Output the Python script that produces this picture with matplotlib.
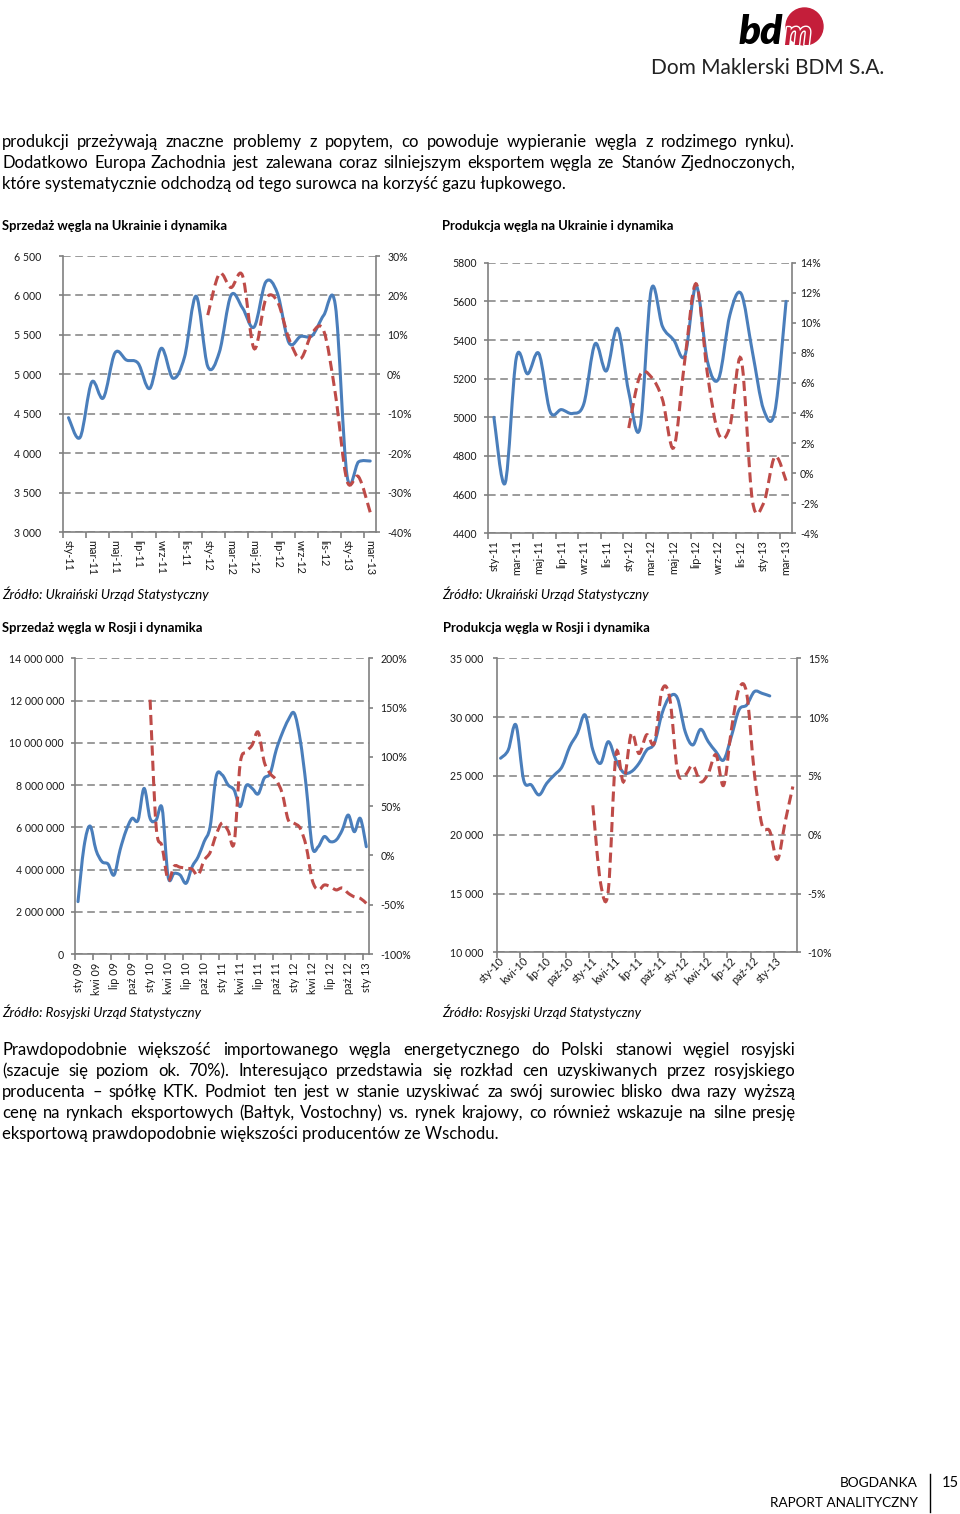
import numpy as np
import matplotlib
matplotlib.use('Agg')
import matplotlib.pyplot as plt
from matplotlib.path import Path
from matplotlib.patches import PathPatch, Circle
from matplotlib.ticker import FuncFormatter
import matplotlib.patheffects as pe

plt.rcParams['font.family'] = ['Lato', 'DejaVu Sans']

BLUE = '#4a7ebb'
RED = '#be4b48'
GRAY = '#808080'
TXT = '#1a1a1a'

MON = ['sty', 'lut', 'mar', 'kwi', 'maj', 'cze', 'lip', 'sie', 'wrz', 'paź', 'lis', 'gru']

# Ukraina - sprzedaz wegla (tys. t) i dynamika r/r (%) od sty-12
ua_months = [m + '-' + y for y in ('11', '12') for m in MON] + ['sty-13', 'lut-13', 'mar-13']
ua_sales = [4450, 4200, 4900, 4700, 5270, 5180, 5140, 4820, 5330, 4950, 5220, 5990, 5100,
            5280, 6000, 5840, 5600, 6170, 6030, 5400, 5480, 5490, 5750, 5870, 3720, 3890, 3900]
ua_sales_yoy = [15, 25.5, 22, 25, 6.5, 19, 18.5, 9, 4, 10.5, 11, -5, -27, -26, -35]

# Ukraina - produkcja wegla i dynamika r/r od sty-12
ua_prod = [5000, 4660, 5310, 5225, 5330, 5030, 5040, 5020, 5070, 5380, 5240, 5460, 5130,
           4945, 5660, 5470, 5400, 5320, 5680, 5290, 5200, 5530, 5640, 5340, 5040, 5030, 5600]
ua_prod_yoy = [3.0, 6.5, 6.4, 4.9, 1.7, 7.6, 12.6, 6.6, 2.6, 3.1, 7.6, -1.8, -2.0, 1.1, -0.5]

# Rosja - sprzedaz wegla (t) i dynamika r/r od sty 10
ru_sales_months = [m + ' ' + y for y in ('09', '10', '11', '12') for m in MON] + ['sty 13']
ru_sales = [2480000, 5080000, 6060000, 4920000, 4370000, 4260000, 3740000, 4920000, 5840000,
            6420000, 6340000, 7840000, 6420000, 6340000, 6900000, 3660000, 3820000, 3740000,
            3350000, 4130000, 4600000, 5320000, 6030000, 8400000, 8480000, 8000000, 7760000,
            6980000, 7970000, 7840000, 7580000, 8320000, 8550000, 9660000, 10450000, 11080000,
            11400000, 10130000, 7920000, 5080000, 5080000, 5560000, 5320000, 5400000, 5870000,
            6580000, 5790000, 6420000, 5080000]
ru_sales_yoy = [158, 30, 9, -25, -11, -12, -13, -14, -20, -5, 3, 21, 33, 25, 13, 93, 105, 112,
                125, 95, 83, 76.6, 63, 36, 32.6, 27.5, 9, -25, -35, -30, -31.7, -35, -33, -38.4,
                -42, -43.5, -48.6]

# Rosja - produkcja wegla (tys. t) i dynamika r/r od sty-11
ru_prod_months = [m + '-' + y for y in ('10', '11', '12') for m in MON] + ['sty-13', 'lut-13', 'mar-13']
ru_prod = [26500, 27200, 29330, 24650, 24230, 23380, 24370, 25080, 25790, 27490, 28620, 30180,
           27200, 26070, 27910, 26350, 25280, 25360, 26070, 27200, 27770, 30320, 31740, 31600,
           28770, 27630, 28960, 27910, 27060, 26350, 28340, 30610, 31030, 32170, 32020, 31800]
ru_prod_yoy = [2.5, -4.1, -4.8, 6.8, 4.5, 8.6, 6.9, 8.5, 7.8, 12.3, 11.6, 5.4, 5.1, 5.9, 4.5,
               5.2, 6.8, 4.2, 8.9, 12.4, 12.0, 5.2, 0.8, 0.3, -2.1, 1.1, 4.1]

fig = plt.figure(figsize=(9.6, 15.14), dpi=100)
W, H = 960, 1514

# warstwa na tekst strony, wspolrzedne w pikselach
bg = fig.add_axes([0, 0, 1, 1])
bg.set_xlim(0, W)
bg.set_ylim(H, 0)
bg.axis('off')
renderer = fig.canvas.get_renderer()


def smooth(xs, ys):
    # wygladzona linia jak w Excelu (Catmull-Rom -> Bezier)
    p = np.column_stack([xs, ys]).astype(float)
    verts = [p[0]]
    codes = [Path.MOVETO]
    for i in range(len(p) - 1):
        p0 = p[i - 1] if i > 0 else p[i]
        p3 = p[i + 2] if i + 2 < len(p) else p[i + 1]
        verts += [p[i] + (p[i + 1] - p0) / 6, p[i + 1] - (p3 - p[i]) / 6, p[i + 1]]
        codes += [Path.CURVE4] * 3
    return Path(verts, codes)


def spaced(v, pos=None):
    return '{:,.0f}'.format(v).replace(',', ' ')


def chart(rect, months, main, yoy, yoy_start, ylim, yticks, yfmt, rlim, rticks,
          step, rot, lpad, rpad, xpad, label_shift=0.0):
    ax = fig.add_axes([rect[0] / W, 1 - rect[3] / H, (rect[2] - rect[0]) / W, (rect[3] - rect[1]) / H])
    axr = ax.twinx()
    n = len(months)
    ax.set_xlim(-0.5, n - 0.5)
    ax.set_ylim(*ylim)
    axr.set_ylim(*rlim)
    ax.set_yticks(yticks)
    ax.yaxis.set_major_formatter(FuncFormatter(yfmt))
    axr.set_yticks(rticks)
    axr.yaxis.set_major_formatter(FuncFormatter(lambda v, p: '{:.0f}%'.format(v)))
    ax.grid(axis='y', color=GRAY, lw=1.1, linestyle=(0, (5, 3)))
    ax.set_axisbelow(True)
    ax.spines['top'].set_visible(False)
    ax.spines['right'].set_visible(False)
    for s in ('top', 'left', 'bottom'):
        axr.spines[s].set_visible(False)
    for sp in (ax.spines['left'], ax.spines['bottom'], axr.spines['right']):
        sp.set_color(GRAY)
        sp.set_linewidth(1.2)
    ax.set_xticks(np.arange(-0.5, n - 0.5, step))
    ax.set_xticklabels([])
    ax.set_xticks(np.arange(0, n, step) + label_shift, minor=True)
    ax.set_xticklabels(months[::step], minor=True)
    ax.tick_params(axis='x', which='major', length=4, color=GRAY, width=1.2)
    ax.tick_params(axis='x', which='minor', length=0, pad=xpad, labelsize=7.8, labelcolor=TXT)
    ax.tick_params(axis='y', length=3, color=GRAY, width=1.2, pad=lpad, labelsize=7.6, labelcolor=TXT)
    axr.tick_params(axis='y', length=3, color=GRAY, width=1.2, pad=rpad, labelsize=7.6, labelcolor=TXT)
    for lbl in ax.get_xticklabels(minor=True):
        lbl.set_rotation(rot)
        if rot == 45:
            lbl.set_ha('right')
            lbl.set_va('center')
            lbl.set_rotation_mode('anchor')
    ax.add_patch(PathPatch(smooth(np.arange(len(main)), main), fill=False, ec=BLUE, lw=2.2,
                           capstyle='round', joinstyle='round', zorder=3))
    xr = np.arange(yoy_start, yoy_start + len(yoy))
    axr.add_patch(PathPatch(smooth(xr, yoy), fill=False, ec=RED, lw=2.2,
                            linestyle=(0, (3.3, 1.7)), zorder=3))
    return ax, axr


chart((62.7, 256, 376, 532), ua_months, ua_sales, ua_sales_yoy, 12,
      (3000, 6500), np.arange(3000, 6501, 500), spaced, (-40, 30), np.arange(-40, 31, 10),
      2, 270, 12.5, 5, 5.5)
chart((488.3, 262.7, 791.7, 533.3), ua_months, ua_prod, ua_prod_yoy, 12,
      (4400, 5800), np.arange(4400, 5801, 200), lambda v, p: '{:.0f}'.format(v),
      (-4, 14), np.arange(-4, 15, 2), 2, 90, 5, 3, 5)
chart((75, 658.3, 369.3, 954), ru_sales_months, ru_sales, ru_sales_yoy, 12,
      (0, 14000000), np.arange(0, 14000001, 2000000), spaced, (-100, 200), np.arange(-100, 201, 50),
      3, 90, 5, 5, 6)
chart((496.7, 658.3, 796.7, 952.3), ru_prod_months, ru_prod, ru_prod_yoy, 12,
      (10000, 35000), np.arange(10000, 35001, 5000), spaced, (-10, 15), np.arange(-10, 16, 5),
      3, 45, 6.5, 5, 5, label_shift=0.3)


def justify(line, y, x0=2, x1=796, last=False, size=12):
    if last:
        bg.text(x0, y, line, fontsize=size, color='black', va='baseline')
        return
    words = line.split(' ')
    ts = [bg.text(0, y, w, fontsize=size, color='black', va='baseline') for w in words]
    widths = [t.get_window_extent(renderer).width for t in ts]
    gap = (x1 - x0 - sum(widths)) / (len(words) - 1)
    x = x0
    for t, w in zip(ts, widths):
        t.set_x(round(x))
        x += w + gap


para1 = ['produkcji przeżywają znaczne problemy z popytem, co powoduje wypieranie węgla z rodzimego rynku).',
         'Dodatkowo Europa Zachodnia jest zalewana coraz silniejszym eksportem węgla ze Stanów Zjednoczonych,',
         'które systematycznie odchodzą od tego surowca na korzyść gazu łupkowego.']
for i, line in enumerate(para1):
    justify(line, 147 + 21 * i, x1=795 if i == 0 else 796, last=(i == 2))

para2 = ['Prawdopodobnie większość importowanego węgla energetycznego do Polski stanowi węgiel rosyjski',
         '(szacuje się poziom ok. 70%). Interesująco przedstawia się rozkład cen uzyskiwanych przez rosyjskiego',
         'producenta – spółkę KTK. Podmiot ten jest w stanie uzyskiwać za swój surowiec blisko dwa razy wyższą',
         'cenę na rynkach eksportowych (Bałtyk, Vostochny) vs. rynek krajowy, co również wskazuje na silne presję',
         'eksportową prawdopodobnie większości producentów ze Wschodu.']
for i, line in enumerate(para2):
    justify(line, 1055 + 21 * i, last=(i == 4))

for x, y, s in [(2, 226, 'Sprzedaż węgla na Ukrainie i dynamika'),
                (442, 226, 'Produkcja węgla na Ukrainie i dynamika'),
                (2, 628, 'Sprzedaż węgla w Rosji i dynamika'),
                (443, 628, 'Produkcja węgla w Rosji i dynamika')]:
    bg.text(x, y, s, fontsize=9.4, fontweight='bold', va='center', color='black')

for x, y, s in [(2, 594, 'Źródło: Ukraiński Urząd Statystyczny'),
                (442, 594, 'Źródło: Ukraiński Urząd Statystyczny'),
                (2, 1012, 'Źródło: Rosyjski Urząd Statystyczny'),
                (442, 1012, 'Źródło: Rosyjski Urząd Statystyczny')]:
    bg.text(x, y, s, fontsize=9.6, style='italic', va='center', color='black')

# logo
bg.add_patch(Circle((804.5, 26.5), 18.5, color='#c41e3a', zorder=1))
bg.text(783, 44, 'bd', fontsize=29, fontweight='heavy', style='italic', ha='right',
        va='baseline', color='black', zorder=2)
bg.text(798, 45, 'm', fontsize=25, fontweight='bold', style='italic', ha='center', va='baseline',
        color='#c41e3a', zorder=2, path_effects=[pe.withStroke(linewidth=2, foreground='white')])
bg.text(767.5, 68, 'Dom Maklerski BDM S.A.', fontsize=15, ha='center', va='center', color='#222222')

# stopka
bg.text(918, 1483, 'BOGDANKA', fontsize=9.8, ha='right', va='center', color='black')
bg.text(918, 1503, 'RAPORT ANALITYCZNY', fontsize=9.7, ha='right', va='center', color='black')
bg.plot([930, 930], [1474, 1512], color='black', lw=1)
bg.text(942, 1483, '15', fontsize=10.5, ha='left', va='center', color='black')

fig.savefig('out.png', dpi=100)
